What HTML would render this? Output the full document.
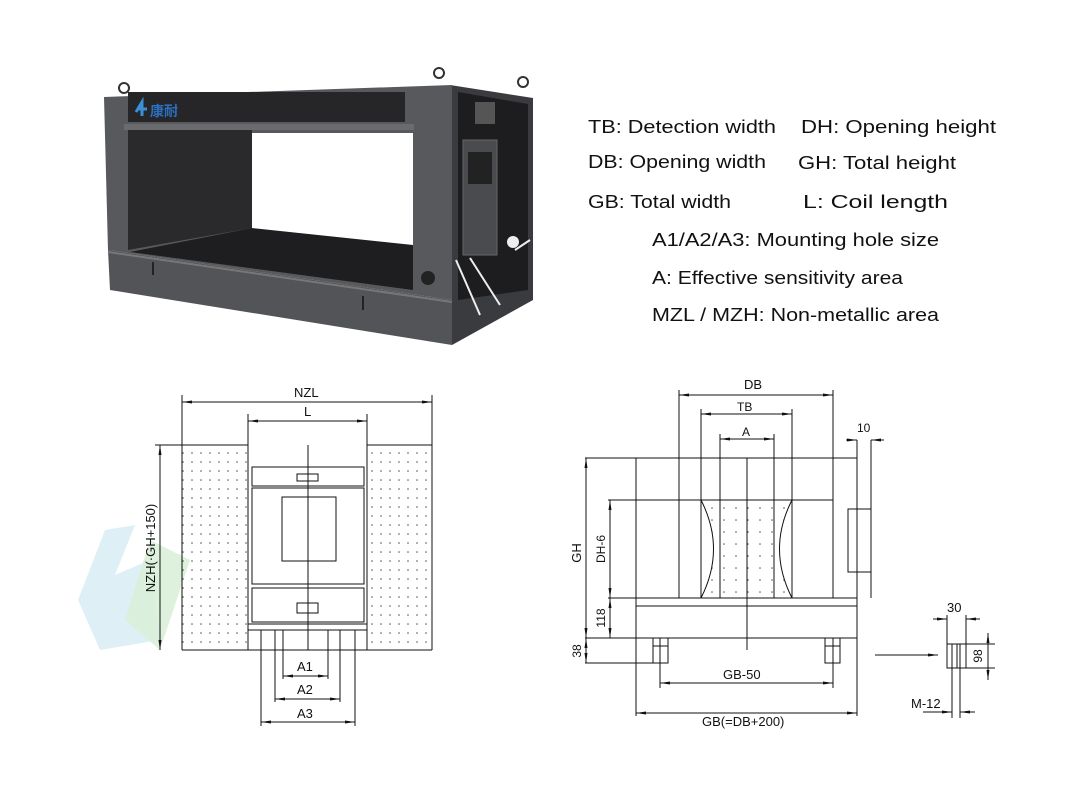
<!DOCTYPE html>
<html><head><meta charset="utf-8"><style>
html,body{margin:0;padding:0;background:#fff;}
svg{display:block;}
text{font-family:"Liberation Sans","Noto Sans CJK SC",sans-serif;fill:#111;}
</style></head><body>
<svg width="1080" height="810" viewBox="0 0 1080 810" xmlns="http://www.w3.org/2000/svg">
<defs>
<pattern id="dots" width="9" height="9" patternUnits="userSpaceOnUse"><circle cx="3" cy="3" r="0.8" fill="#555"/></pattern>
<pattern id="dots2" width="12" height="12" patternUnits="userSpaceOnUse"><circle cx="4" cy="4" r="0.8" fill="#555"/></pattern>
<marker id="ar" viewBox="0 0 10 6" refX="10" refY="3" markerWidth="10" markerHeight="6" orient="auto-start-reverse"><path d="M0,1.5 L10,3 L0,4.5z" fill="#111"/></marker>
</defs>
<rect width="1080" height="810" fill="#fff"/>
<path d="M78,600 L105,530 L135,525 L115,575 L150,560 L160,640 L100,650 Z" fill="#d6ecf4" opacity="0.8"/>
<path d="M150,540 L190,560 L160,650 L125,620 Z" fill="#d9f0d9" opacity="0.9"/>

<g>
<circle cx="124" cy="88" r="5" fill="none" stroke="#333" stroke-width="2"/>
<circle cx="439" cy="73" r="5" fill="none" stroke="#333" stroke-width="2"/>
<circle cx="523" cy="82" r="5" fill="none" stroke="#333" stroke-width="2"/>
<polygon points="450,85 533,98 533,300 452,345" fill="#3a3b3e"/>
<polygon points="458,92 528,104 528,290 458,300" fill="#1d1d1f"/>
<rect x="463" y="140" width="34" height="115" fill="#4a4b4f" stroke="#666"/>
<rect x="468" y="152" width="24" height="32" fill="#222"/>
<rect x="475" y="102" width="20" height="22" fill="#555"/>
<circle cx="513" cy="242" r="6" fill="#eee"/>
<path d="M456,260 L480,315 M470,258 L500,305 M515,250 L530,240" stroke="#eee" stroke-width="2" fill="none"/>
<polygon points="108,250 452,300 452,345 110,290" fill="#535458"/>
<line x1="108" y1="252" x2="452" y2="302" stroke="#777" stroke-width="2"/>
<line x1="153" y1="262" x2="153" y2="275" stroke="#222" stroke-width="2"/>
<line x1="363" y1="296" x2="363" y2="310" stroke="#222" stroke-width="2"/>
<polygon points="104,97 452,85 452,300 108,250" fill="#58595d"/>
<polygon points="128,92 405,92 405,122 128,122" fill="#262628"/>
<text x="150" y="116" font-size="14" style="fill:#2b6fc0" font-weight="bold">康耐</text>
<path d="M136,112 L142,102 L142,116 M139,109 L147,109" stroke="#3a8fd8" stroke-width="3" fill="none"/>
<rect x="124" y="124" width="290" height="6" fill="#6a6b6f"/>
<polygon points="128,130 252,130 252,228 128,250" fill="#2a2a2c"/>
<rect x="252" y="133" width="161" height="112" fill="#fff"/>
<polygon points="130,252 252,228 413,245 413,290" fill="#1e1e20"/>
<circle cx="428" cy="278" r="7" fill="#222"/>
</g>

<g font-size="18">
<text x="588" y="133" textLength="188" lengthAdjust="spacingAndGlyphs">TB: Detection width</text>
<text x="801" y="133" textLength="195" lengthAdjust="spacingAndGlyphs">DH: Opening height</text>
<text x="588" y="168" textLength="178" lengthAdjust="spacingAndGlyphs">DB: Opening width</text>
<text x="798" y="169" textLength="158" lengthAdjust="spacingAndGlyphs">GH: Total height</text>
<text x="588" y="208" textLength="143" lengthAdjust="spacingAndGlyphs">GB: Total width</text>
<text x="803" y="208" textLength="145" lengthAdjust="spacingAndGlyphs">L:   Coil length</text>
<text x="652" y="246" textLength="287" lengthAdjust="spacingAndGlyphs">A1/A2/A3:  Mounting hole size</text>
<text x="652" y="284" textLength="251" lengthAdjust="spacingAndGlyphs">A: Effective sensitivity area</text>
<text x="652" y="321" textLength="287" lengthAdjust="spacingAndGlyphs">MZL / MZH: Non-metallic area</text>
</g>

<g stroke="#111" stroke-width="1" fill="none">
<rect x="182" y="445" width="66" height="205" fill="url(#dots)" stroke="none"/>
<rect x="367" y="445" width="65" height="205" fill="url(#dots)" stroke="none"/>
<line x1="182" y1="395" x2="182" y2="650"/>
<line x1="432" y1="395" x2="432" y2="650"/>
<line x1="182" y1="445" x2="248" y2="445"/>
<line x1="367" y1="445" x2="432" y2="445"/>
<line x1="182" y1="650" x2="432" y2="650"/>
<line x1="182" y1="402" x2="432" y2="402" marker-start="url(#ar)" marker-end="url(#ar)"/>
<line x1="248" y1="414" x2="248" y2="650"/>
<line x1="367" y1="414" x2="367" y2="650"/>
<line x1="248" y1="421" x2="367" y2="421" marker-start="url(#ar)" marker-end="url(#ar)"/>
<rect x="252" y="467" width="112" height="19"/>
<rect x="297" y="474" width="21" height="7"/>
<rect x="252" y="488" width="112" height="96"/>
<rect x="282" y="497" width="54" height="64"/>
<rect x="252" y="588" width="112" height="34"/>
<rect x="297" y="603" width="21" height="10"/>
<rect x="248" y="624" width="119" height="6"/>
<line x1="308" y1="445" x2="308" y2="650"/>
<line x1="261" y1="630" x2="261" y2="726"/>
<line x1="275" y1="630" x2="275" y2="702"/>
<line x1="283" y1="630" x2="283" y2="679"/>
<line x1="328" y1="630" x2="328" y2="679"/>
<line x1="340" y1="630" x2="340" y2="702"/>
<line x1="355" y1="630" x2="355" y2="726"/>
<line x1="283" y1="676" x2="328" y2="676" marker-start="url(#ar)" marker-end="url(#ar)"/>
<line x1="275" y1="699" x2="340" y2="699" marker-start="url(#ar)" marker-end="url(#ar)"/>
<line x1="261" y1="722" x2="355" y2="722" marker-start="url(#ar)" marker-end="url(#ar)"/>
<line x1="155" y1="445" x2="182" y2="445"/>
<line x1="160" y1="445" x2="160" y2="650" marker-start="url(#ar)" marker-end="url(#ar)"/>
</g>
<g font-size="13">
<text x="294" y="397">NZL</text>
<text x="304" y="416">L</text>
<text x="297" y="671">A1</text>
<text x="297" y="694">A2</text>
<text x="297" y="718">A3</text>
<text transform="translate(155,548) rotate(-90)" text-anchor="middle">NZH(·GH+150)</text>
</g>

<g stroke="#111" stroke-width="1" fill="none">
<path d="M701,500 L792,500 Q767,549 792,598 L701,598 Q726,549 701,500Z" fill="url(#dots2)" stroke="none"/>
<line x1="679" y1="390" x2="679" y2="598"/>
<line x1="833" y1="390" x2="833" y2="598"/>
<line x1="679" y1="395" x2="833" y2="395" marker-start="url(#ar)" marker-end="url(#ar)"/>
<line x1="701" y1="409" x2="701" y2="598"/>
<line x1="792" y1="409" x2="792" y2="598"/>
<line x1="701" y1="414" x2="792" y2="414" marker-start="url(#ar)" marker-end="url(#ar)"/>
<line x1="720" y1="434" x2="720" y2="598"/>
<line x1="774" y1="434" x2="774" y2="598"/>
<line x1="720" y1="439" x2="774" y2="439" marker-start="url(#ar)" marker-end="url(#ar)"/>
<line x1="585" y1="458" x2="857" y2="458"/>
<line x1="636" y1="458" x2="636" y2="716"/>
<line x1="857" y1="440" x2="857" y2="716"/>
<line x1="871" y1="440" x2="871" y2="509"/>
<line x1="871" y1="572" x2="871" y2="598"/>
<line x1="846" y1="440" x2="857" y2="440" marker-end="url(#ar)"/>
<line x1="884" y1="440" x2="871" y2="440" marker-end="url(#ar)"/>
<rect x="848" y="509" width="23" height="63"/>
<line x1="608" y1="500" x2="833" y2="500"/>
<path d="M701,500 Q726,549 701,598"/>
<path d="M792,500 Q767,549 792,598"/>
<line x1="747" y1="458" x2="747" y2="650"/>
<line x1="608" y1="598" x2="857" y2="598"/>
<rect x="636" y="606" width="221" height="32"/>
<line x1="585" y1="638" x2="636" y2="638"/>
<line x1="585" y1="663" x2="660" y2="663"/>
<rect x="653" y="638" width="15" height="25"/>
<line x1="653" y1="646" x2="668" y2="646"/><line x1="660" y1="638" x2="660" y2="688"/>
<rect x="825" y="638" width="15" height="25"/>
<line x1="825" y1="646" x2="840" y2="646"/><line x1="833" y1="638" x2="833" y2="688"/>
<line x1="660" y1="683" x2="833" y2="683" marker-start="url(#ar)" marker-end="url(#ar)"/>
<line x1="636" y1="713" x2="857" y2="713" marker-start="url(#ar)" marker-end="url(#ar)"/>
<line x1="586" y1="458" x2="586" y2="638" marker-start="url(#ar)" marker-end="url(#ar)"/>
<line x1="610" y1="500" x2="610" y2="598" marker-start="url(#ar)" marker-end="url(#ar)"/>
<line x1="610" y1="598" x2="610" y2="638" marker-start="url(#ar)" marker-end="url(#ar)"/>
<line x1="586" y1="638" x2="586" y2="663" marker-start="url(#ar)" marker-end="url(#ar)"/>
<line x1="875" y1="655" x2="938" y2="655" marker-end="url(#ar)"/>
<rect x="947" y="644" width="19" height="24"/>
<line x1="952" y1="644" x2="952" y2="718"/>
<line x1="957" y1="644" x2="957" y2="668"/>
<line x1="960" y1="644" x2="960" y2="718"/>
<line x1="947" y1="615" x2="947" y2="644"/>
<line x1="966" y1="615" x2="966" y2="644"/>
<line x1="933" y1="619" x2="947" y2="619" marker-end="url(#ar)"/>
<line x1="980" y1="619" x2="966" y2="619" marker-end="url(#ar)"/>
<line x1="966" y1="644" x2="995" y2="644"/>
<line x1="966" y1="668" x2="995" y2="668"/>
<line x1="988" y1="633" x2="988" y2="680" marker-start="url(#ar)" marker-end="url(#ar)"/>
<line x1="923" y1="712" x2="952" y2="712" marker-end="url(#ar)"/>
<line x1="975" y1="712" x2="960" y2="712" marker-end="url(#ar)"/>
</g>
<g font-size="13">
<text x="744" y="389">DB</text>
<text x="737" y="411" font-size="12">TB</text>
<text x="742" y="436" font-size="12">A</text>
<text x="857" y="432" font-size="12">10</text>
<text x="723" y="679">GB-50</text>
<text x="702" y="726">GB(=DB+200)</text>
<text transform="translate(581,553) rotate(-90)" text-anchor="middle">GH</text>
<text transform="translate(605,549) rotate(-90)" text-anchor="middle" font-size="12">DH-6</text>
<text transform="translate(605,618) rotate(-90)" text-anchor="middle" font-size="12">118</text>
<text transform="translate(581,651) rotate(-90)" text-anchor="middle" font-size="12">38</text>
<text x="947" y="612">30</text>
<text transform="translate(982,656) rotate(-90)" text-anchor="middle" font-size="12">98</text>
<text x="911" y="708">M-12</text>
</g>
</svg>
</body></html>
